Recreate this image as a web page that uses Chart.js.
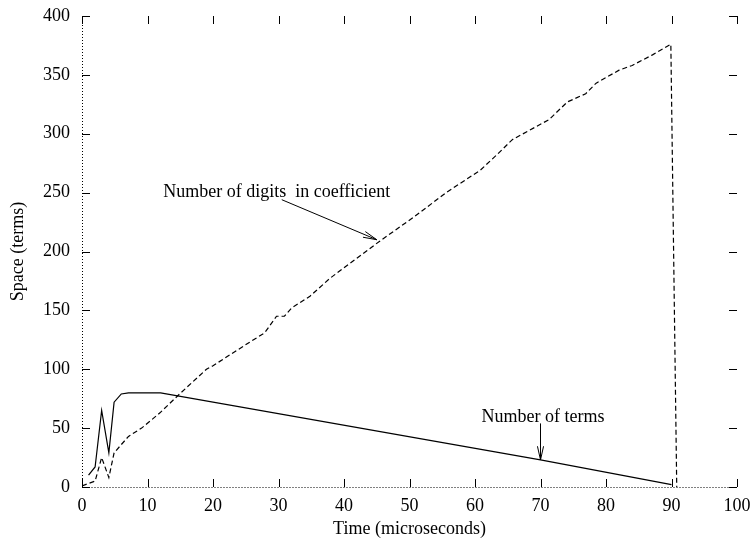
<!DOCTYPE html>
<html>
<head>
<meta charset="utf-8">
<script src="https://cdn.jsdelivr.net/npm/chart.js@4"></script>
<style>
  html, body { margin: 0; padding: 0; background: #fff; }
  #wrap { width: 750px; height: 545px; }
</style>
</head>
<body>
<div id="wrap"><canvas id="chart"></canvas></div>
<script>
// values
const termsTime  = [1, 2, 3, 4.1, 4.9, 6, 7.1, 12, 70, 90];
const termsSpace = [10, 17, 65, 29, 72, 79, 80, 80, 23, 2];

const digitsTime  = [0, 2, 3, 4.1, 4.9, 7.1, 9.1, 11.9, 14.9, 19, 20, 25.6, 27.9, 29.7, 30.9, 32, 34.8, 37.8, 45.5, 50.6, 55.6, 60.8, 63.5, 65.7, 71.3, 74.1, 76.9, 78.5, 82, 84, 87.1, 89.9, 90.8];
const digitsSpace = [1, 5, 25, 8, 29, 43, 50, 63, 79, 100, 103, 123, 131, 145, 145, 152, 162, 177, 209, 229, 250, 269, 283, 295, 312, 327, 334, 343, 354, 358, 367, 376, 0];

const xTicks = [0, 10, 20, 30, 40, 50, 60, 70, 80, 90, 100];
const yTicks = [0, 50, 100, 150, 200, 250, 300, 350, 400];

const FONT = "'Liberation Serif', 'Times New Roman', serif";
const FS = 18;

function pts(xs, ys) { return xs.map((x, i) => ({ x, y: ys[i] })); }

// gnuplot style frame: dotted zero axes + inward ticks on all four sides, plus the labels with arrows
const framePlugin = {
    id: 'frame',
    afterDatasetsDraw(chart) {
        const { ctx, chartArea: a, scales: { x, y } } = chart;
        const tl = 8;
        ctx.save();
        ctx.strokeStyle = '#000';
        ctx.lineWidth = 1;
        // dotted zero axes
        ctx.setLineDash([1, 2]);
        ctx.beginPath();
        const x0 = Math.round(x.getPixelForValue(0)) + 0.5;
        const y0 = Math.round(y.getPixelForValue(0)) + 0.5;
        ctx.moveTo(x0, y.getPixelForValue(400)); ctx.lineTo(x0, y0);
        ctx.moveTo(x0, y0); ctx.lineTo(x.getPixelForValue(100), y0);
        ctx.stroke();
        ctx.setLineDash([]);
        // ticks
        ctx.beginPath();
        x.ticks.forEach(t => {
            const px = Math.round(x.getPixelForValue(t.value)) + 0.5;
            ctx.moveTo(px, a.bottom); ctx.lineTo(px, a.bottom - tl);
            ctx.moveTo(px, a.top); ctx.lineTo(px, a.top + tl);
        });
        y.ticks.forEach(t => {
            const py = Math.round(y.getPixelForValue(t.value)) + 0.5;
            ctx.moveTo(a.left, py); ctx.lineTo(a.left + tl, py);
            ctx.moveTo(a.right, py); ctx.lineTo(a.right - tl, py);
        });
        ctx.stroke();

        // annotations
        ctx.fillStyle = '#000';
        ctx.font = FS + 'px ' + FONT;
        ctx.textBaseline = 'middle';
        ctx.fillText('Number of digits  in coefficient', x.getPixelForValue(12.4), y.getPixelForValue(250));
        ctx.fillText('Number of terms', x.getPixelForValue(61), y.getPixelForValue(59));
        arrow(ctx, x.getPixelForValue(30.5), y.getPixelForValue(244), x.getPixelForValue(45), y.getPixelForValue(210));
        arrow(ctx, x.getPixelForValue(70), y.getPixelForValue(54), x.getPixelForValue(70), y.getPixelForValue(23));
        ctx.restore();
    }
};

function arrow(ctx, x1, y1, x2, y2) {
    const ang = Math.atan2(y2 - y1, x2 - x1);
    const h = 14, spread = 0.22;
    ctx.beginPath();
    ctx.moveTo(x1, y1); ctx.lineTo(x2, y2);
    ctx.moveTo(x2 - h * Math.cos(ang - spread), y2 - h * Math.sin(ang - spread));
    ctx.lineTo(x2, y2);
    ctx.lineTo(x2 - h * Math.cos(ang + spread), y2 - h * Math.sin(ang + spread));
    ctx.stroke();
}

new Chart(document.getElementById('chart'), {
    type: 'scatter',
    data: {
        datasets: [
            { label: 'Number of terms', data: pts(termsTime, termsSpace), showLine: true, borderColor: '#000', borderWidth: 1.2, pointRadius: 0, tension: 0, fill: false },
            { label: 'Number of digits in coefficient', data: pts(digitsTime, digitsSpace), showLine: true, borderColor: '#000', borderWidth: 1.2, borderDash: [5, 3], pointRadius: 0, tension: 0, fill: false }
        ]
    },
    options: {
        responsive: true, maintainAspectRatio: false, animation: false,
        layout: { padding: { top: 16, right: 13, left: 0, bottom: 0 } },
        plugins: { legend: { display: false }, tooltip: { enabled: false } },
        scales: {
            x: {
                type: 'linear', min: 0, max: 100,
                afterBuildTicks: s => { s.ticks = xTicks.map(v => ({ value: v })); },
                afterFit: s => { s.height = 58; s.paddingLeft = 0; s.paddingRight = 0; },
                grid: { display: false, drawTicks: false },
                border: { display: false },
                ticks: { color: '#000', font: { family: FONT, size: FS }, padding: 8, maxRotation: 0 },
                title: { display: true, text: 'Time (microseconds)', color: '#000', font: { family: FONT, size: FS }, padding: { top: 2, bottom: 5 } }
            },
            y: {
                type: 'linear', min: 0, max: 400,
                afterBuildTicks: s => { s.ticks = yTicks.map(v => ({ value: v })); },
                afterFit: s => { s.width = 82; s.paddingTop = 0; s.paddingBottom = 0; },
                grid: { display: false, drawTicks: false },
                border: { display: false },
                ticks: { color: '#000', font: { family: FONT, size: FS }, padding: 12 },
                title: { display: true, text: 'Space (terms)', color: '#000', font: { family: FONT, size: FS }, padding: { top: 7, bottom: 0 } }
            }
        }
    },
    plugins: [framePlugin]
});
</script>
</body>
</html>
